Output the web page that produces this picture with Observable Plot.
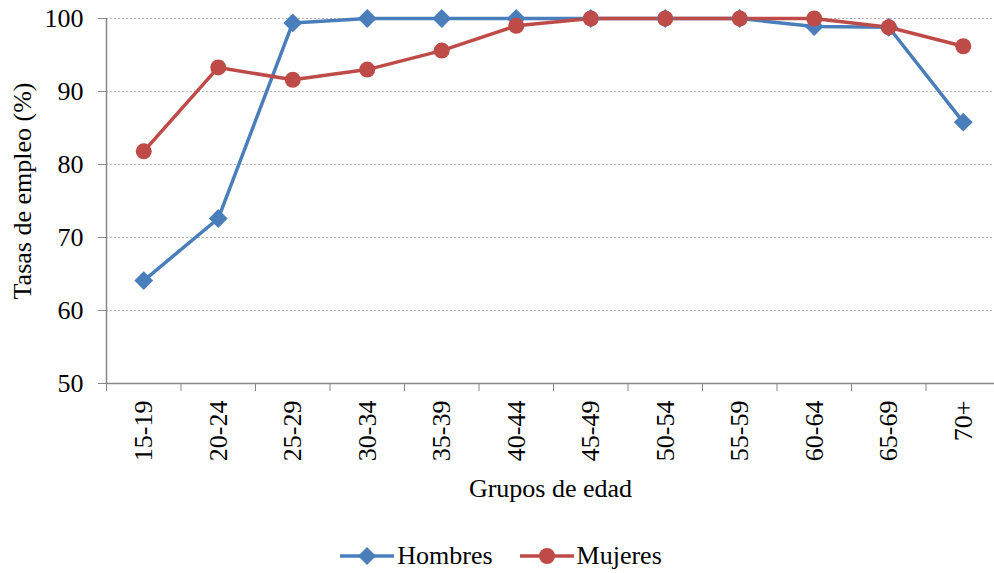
<!DOCTYPE html>
<html>
<head>
<meta charset="utf-8">
<script src="https://cdn.jsdelivr.net/npm/d3@7"></script>
<script src="https://cdn.jsdelivr.net/npm/@observablehq/plot@0.6"></script>
<style>
body { margin: 0; background: #fff; font-family: "Liberation Serif", "DejaVu Serif", serif; }
#chart { width: 994px; overflow: hidden; height: 520px; }
#legend { display: flex; justify-content: center; align-items: center; gap: 27px; font-size: 26px; color: #000; margin-top: 21px; padding-left: 8px; line-height: 30px; }
#legend .item { display: flex; align-items: center; gap: 3px; }
</style>
</head>
<body>
<div id="chart"></div>
<div id="legend"></div>
<script>
const categories = ["15-19","20-24","25-29","30-34","35-39","40-44","45-49","50-54","55-59","60-64","65-69","70+"];
const hombres = [64.1, 72.6, 99.4, 100, 100, 100, 100, 100, 100, 98.9, 98.8, 85.8];
const mujeres = [81.8, 93.3, 91.6, 93.0, 95.6, 99.0, 100, 100, 100, 100, 98.8, 96.2];
const yTicks = [50, 60, 70, 80, 90, 100];
const series = [
  {name: "Hombres", values: hombres, color: "#4A7EBB", symbol: "diamond2"},
  {name: "Mujeres", values: mujeres, color: "#BE4B48", symbol: "circle"}
];

const rows = series.flatMap(s => s.values.map((v, i) => ({serie: s.name, pos: i + 0.5, cat: categories[i], value: v})));
const centers = categories.map((_, i) => i + 0.5);
const bounds = d3.range(categories.length + 1);

const W = 994, H = 520;
const plot = Plot.plot({
  width: W,
  height: H,
  marginTop: 18,
  marginBottom: 137,
  marginLeft: 106,
  marginRight: 0,
  style: {fontFamily: "'Liberation Serif', serif", fontSize: "26px", color: "#000", background: "#fff", overflow: "hidden"},
  x: {domain: [0, categories.length], range: [106, 1000]},
  y: {domain: [50, 100]},
  marks: [
    Plot.gridY(yTicks.filter(t => t > 50), {stroke: "#b8b8b8", strokeOpacity: 1, strokeDasharray: "2,2", strokeWidth: 1}),
    Plot.ruleX([0], {stroke: "#888", strokeWidth: 1.5}),
    Plot.ruleY([50], {stroke: "#888", strokeWidth: 1.5}),
    Plot.axisY({ticks: yTicks, tickSize: 8, tickPadding: 15, stroke: "#888", label: null, fill: "#000"}),
    Plot.axisX({ticks: bounds, tickSize: 8, tickFormat: () => "", stroke: "#888", label: null}),
    Plot.axisX({ticks: centers, tickSize: 0, tickPadding: 17, tickRotate: -90, tickFormat: d => categories[Math.floor(d)], label: null, fill: "#000"}),
    Plot.text(["Tasas de empleo (%)"], {frameAnchor: "left", textAnchor: "middle", lineAnchor: "middle", dx: -84, dy: -10, rotate: -90, fontSize: 26, fill: "#000"}),
    Plot.text(["Grupos de edad"], {frameAnchor: "bottom", lineAnchor: "middle", dy: 105, fontSize: 26, fill: "#000"}),
    ...series.map(s => Plot.line(rows.filter(r => r.serie === s.name), {x: "pos", y: "value", stroke: s.color, strokeWidth: 3.5})),
    ...series.map(s => Plot.dot(rows.filter(r => r.serie === s.name), {x: "pos", y: "value", fill: s.color, symbol: s.symbol, r: s.symbol === "circle" ? 8 : 8.5}))
  ]
});
document.getElementById("chart").appendChild(plot);

const legend = document.getElementById("legend");
series.forEach(s => {
  const item = document.createElement("div");
  item.className = "item";
  const sym = s.symbol === "circle"
    ? `<circle cx="27" cy="11" r="8" fill="${s.color}"/>`
    : `<path d="M27 2 L36 11 L27 20 L18 11 Z" fill="${s.color}"/>`;
  item.innerHTML = `<svg width="54" height="22"><line x1="0" x2="54" y1="11" y2="11" stroke="${s.color}" stroke-width="3.5"/>${sym}</svg><span>${s.name}</span>`;
  legend.appendChild(item);
});
</script>
</body>
</html>
